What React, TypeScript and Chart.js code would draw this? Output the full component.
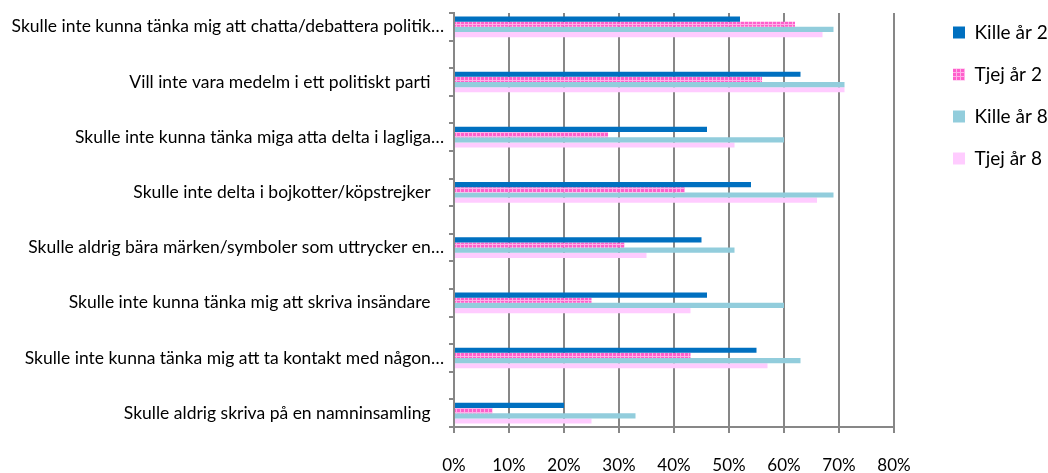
import React, { useEffect, useRef } from 'react';
import { Chart, registerables } from 'chart.js';

Chart.register(...registerables);

const categories = [
  'Skulle inte kunna tänka mig att chatta/debattera politik…',
  'Vill inte vara medelm i ett politiskt parti   ',
  'Skulle inte kunna tänka miga atta delta i lagliga…',
  'Skulle inte delta i bojkotter/köpstrejker   ',
  'Skulle aldrig bära märken/symboler som uttrycker en…',
  'Skulle inte kunna tänka mig att skriva insändare   ',
  'Skulle inte kunna tänka mig att ta kontakt med någon…',
  'Skulle aldrig skriva på en namninsamling   ',
];
const seriesNames = ['Kille år 2', 'Tjej år 2', 'Kille år 8', 'Tjej år 8'];
const killeAr2 = [52, 63, 46, 54, 45, 46, 55, 20];
const tjejAr2 = [62, 56, 28, 42, 31, 25, 43, 7];
const killeAr8 = [69, 71, 60, 69, 51, 60, 63, 33];
const tjejAr8 = [67, 71, 51, 66, 35, 43, 57, 25];
const xMin = 0;
const xMax = 80;
const xStep = 10;

// Excel sheet had an empty row between each question
const spacedLabels: string[] = [];
categories.forEach((c, i) => {
  spacedLabels.push(c);
  if (i < categories.length - 1) spacedLabels.push('');
});
const spaced = (arr: number[]) => {
  const out: (number | null)[] = [];
  arr.forEach((v, i) => {
    out.push(v);
    if (i < arr.length - 1) out.push(null);
  });
  return out;
};

const FONT = 'Lato, "Noto Sans", sans-serif';
const GRID = '#878787';
const LEGEND_SHIFT = 36;

const legendShift = {
  id: 'legendShift',
  afterLayout(chart: any) {
    const lg = chart.legend;
    if (lg) {
      lg.left += LEGEND_SHIFT;
      lg.right += LEGEND_SHIFT;
    }
  },
};

export default function App() {
  const ref = useRef<HTMLCanvasElement | null>(null);

  useEffect(() => {
    const canvas = ref.current;
    if (!canvas) return;
    const ctx = canvas.getContext('2d')!;

    const pc = document.createElement('canvas');
    pc.width = 4;
    pc.height = 4;
    const g = pc.getContext('2d')!;
    g.fillStyle = '#FF5FCB';
    g.fillRect(0, 0, 4, 4);
    g.fillStyle = '#FFB0E8';
    g.fillRect(0, 0, 4, 1);
    g.fillRect(0, 0, 1, 4);
    const pinkPattern = ctx.createPattern(pc, 'repeat')!;

    const colors: any[] = ['#0070C0', pinkPattern, '#92CDDC', '#FFCCFF'];
    const values = [killeAr2, tjejAr2, killeAr8, tjejAr8];

    const chart = new Chart(ctx, {
      type: 'bar',
      data: {
        labels: spacedLabels,
        datasets: values.map((v, i) => ({
          label: seriesNames[i],
          data: spaced(v),
          backgroundColor: colors[i],
          borderWidth: 0,
          categoryPercentage: 0.75,
          barPercentage: 1,
        })),
      },
      options: {
        indexAxis: 'y',
        responsive: false,
        animation: false,
        layout: { padding: 0 },
        plugins: {
          tooltip: { enabled: false },
          legend: {
            position: 'right',
            align: 'start',
            labels: {
              boxWidth: 12,
              boxHeight: 12,
              padding: 23,
              color: '#000',
              font: { family: FONT, size: 19 },
            },
          },
        },
        scales: {
          x: {
            min: xMin,
            max: xMax,
            ticks: {
              stepSize: xStep,
              color: '#000',
              padding: 22,
              font: { family: FONT, size: 17 },
              callback: (v: any) => v + '%',
            },
            grid: {
              color: GRID,
              lineWidth: 2,
              drawTicks: true,
              tickLength: 6,
              tickColor: GRID,
            },
            border: { display: true, color: GRID, width: 2 },
            afterFit: (s: any) => {
              s.height = 46;
              s.paddingRight = 154;
            },
          },
          y: {
            ticks: {
              autoSkip: false,
              color: '#000',
              padding: 5,
              font: { family: FONT, size: 17.5 },
            },
            grid: {
              drawOnChartArea: false,
              drawTicks: true,
              tickLength: 5,
              color: GRID,
              lineWidth: 2,
            },
            border: { display: true, color: GRID, width: 2 },
            afterFit: (s: any) => {
              s.width = 454;
              s.paddingTop = 13;
              s.paddingBottom = 0;
            },
          },
        },
      },
      plugins: [legendShift],
    });
    return () => chart.destroy();
  }, []);

  return (
    <div style={{ position: 'absolute', left: 0, top: 0, width: 1048, height: 473, background: '#fff' }}>
      <canvas ref={ref} width={1048} height={473} style={{ display: 'block', width: 1048, height: 473 }} />
    </div>
  );
}
